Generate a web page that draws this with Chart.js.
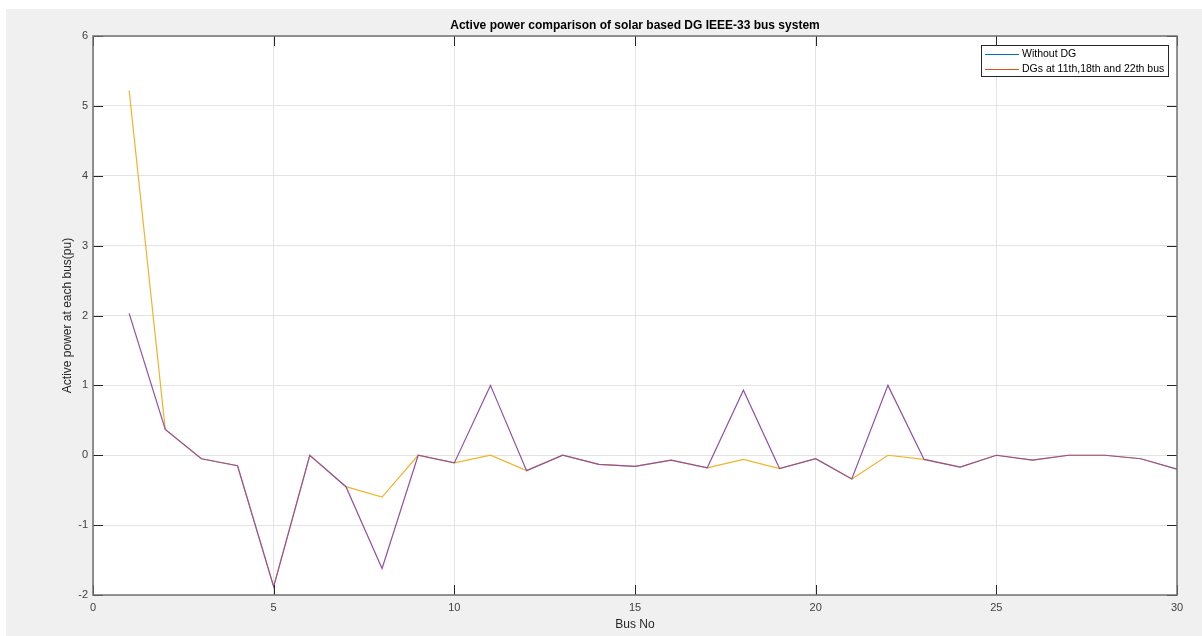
<!DOCTYPE html>
<html>
<head>
<meta charset="utf-8">
<title>Active power comparison</title>
<script src="https://cdn.jsdelivr.net/npm/chart.js@4.4.0/dist/chart.umd.min.js"></script>
<style>
    html, body { margin: 0; padding: 0; background: #fff; }
    #wrap { width: 1202px; height: 636px; }
</style>
</head>
<body>
<div id="wrap"><canvas id="powerChart" width="1202" height="636"></canvas></div>
<script>
// data
const busNo = [1, 2, 3, 4, 5, 6, 7, 8, 9, 10, 11, 12, 13, 14, 15, 16, 17, 18, 19, 20, 21, 22, 23, 24, 25, 26, 27, 28, 29, 30];
const withoutDG = [2.03, 0.37, -0.05, -0.15, -1.88, 0.00, -0.45, -1.62, 0.00, -0.11, 1.00, -0.22, 0.00, -0.13, -0.16, -0.07, -0.18, 0.93, -0.19, -0.05, -0.34, 1.00, -0.06, -0.17, 0.00, -0.07, 0.00, 0.00, -0.05, -0.20];
const withDG = [5.22, 0.37, -0.05, -0.15, -1.88, 0.00, -0.45, -0.60, 0.00, -0.11, 0.00, -0.22, 0.00, -0.13, -0.16, -0.07, -0.18, -0.06, -0.19, -0.05, -0.34, 0.00, -0.06, -0.17, 0.00, -0.07, 0.00, 0.00, -0.05, -0.20];
const seriesNames = ["Without DG", "DGs at 11th,18th and 22th bus"];
const lineColors = ["#9150a3", "#F0B32C"];
// the legend in the figure uses other colours than the lines
const legendColors = ["#0072BD", "#D95319"];

Chart.defaults.font.family = '"Liberation Sans", Arial, Helvetica, sans-serif';

function toPoints(values) {
    return busNo.map((b, i) => ({ x: b, y: values[i] }));
}

// grey figure with a white axes area
const figureBackground = {
    id: 'figureBackground',
    beforeDraw(chart) {
        const ctx = chart.ctx;
        const a = chart.chartArea;
        ctx.save();
        ctx.fillStyle = '#ffffff';
        ctx.fillRect(0, 0, chart.width, chart.height);
        ctx.fillStyle = '#f0f0f0';
        ctx.fillRect(6, 9, chart.width - 6, chart.height - 9);
        ctx.fillStyle = '#ffffff';
        ctx.fillRect(a.left, a.top, a.right - a.left, a.bottom - a.top);
        ctx.restore();
    }
};

// box round the axes, with the ticks pointing inwards on all four sides
const axesBox = {
    id: 'axesBox',
    afterDatasetsDraw(chart) {
        const ctx = chart.ctx;
        const a = chart.chartArea;
        const xs = chart.scales.x, ys = chart.scales.y;
        const len = 10;
        ctx.save();
        ctx.strokeStyle = '#262626';
        ctx.lineWidth = 1;
        ctx.beginPath();
        xs.ticks.forEach(t => {
            const px = Math.round(xs.getPixelForValue(t.value)) + 0.5;
            ctx.moveTo(px, a.bottom); ctx.lineTo(px, a.bottom - len);
            ctx.moveTo(px, a.top); ctx.lineTo(px, a.top + len);
        });
        ys.ticks.forEach(t => {
            const py = Math.round(ys.getPixelForValue(t.value)) + 0.5;
            ctx.moveTo(a.left, py); ctx.lineTo(a.left + len, py);
            ctx.moveTo(a.right, py); ctx.lineTo(a.right - len, py);
        });
        ctx.stroke();
        ctx.strokeStyle = '#707070';
        ctx.lineWidth = 1.5;
        ctx.strokeRect(a.left, a.top, a.right - a.left, a.bottom - a.top);
        ctx.restore();
    }
};

// legend box inside the axes, top right
const boxLegend = {
    id: 'boxLegend',
    afterDraw(chart) {
        const ctx = chart.ctx;
        const a = chart.chartArea;
        const w = 187, h = 31;
        const x0 = a.right - 9 - w, y0 = a.top + 9;
        ctx.save();
        ctx.fillStyle = '#ffffff';
        ctx.fillRect(x0, y0, w, h);
        ctx.strokeStyle = '#262626';
        ctx.lineWidth = 1;
        ctx.strokeRect(x0 + 0.5, y0 + 0.5, w, h);
        ctx.font = '10.5px "Liberation Sans", Arial, sans-serif';
        ctx.textBaseline = 'middle';
        chart.data.datasets.forEach((ds, i) => {
            const y = y0 + 9.5 + i * 15;
            ctx.strokeStyle = legendColors[i];
            ctx.lineWidth = 1;
            ctx.beginPath();
            ctx.moveTo(x0 + 4, y);
            ctx.lineTo(x0 + 38, y);
            ctx.stroke();
            ctx.fillStyle = '#000000';
            ctx.fillText(ds.label, x0 + 41, y);
        });
        ctx.restore();
    }
};

new Chart("powerChart", {
    type: "line",
    data: {
        datasets: [{
            label: seriesNames[0],
            data: toPoints(withoutDG),
            borderColor: lineColors[0],
            backgroundColor: lineColors[0],
            borderWidth: 1.2,
            pointRadius: 0,
            tension: 0,
            fill: false
        }, {
            label: seriesNames[1],
            data: toPoints(withDG),
            borderColor: lineColors[1],
            backgroundColor: lineColors[1],
            borderWidth: 1.2,
            pointRadius: 0,
            tension: 0,
            fill: false
        }]
    },
    options: {
        responsive: false,
        animation: false,
        events: [],
        layout: {
            padding: { left: 56, right: 25, top: 0, bottom: 0 }
        },
        scales: {
            x: {
                type: 'linear',
                min: 0,
                max: 30,
                ticks: { stepSize: 5, color: '#404040', font: { size: 11 }, padding: 6, maxRotation: 0 },
                grid: { color: '#e3e3e3', drawTicks: false },
                border: { display: false },
                title: { display: true, text: 'Bus No', color: '#262626', font: { size: 12 }, padding: { top: 0, bottom: 4 } },
                afterFit(scale) { scale.height = 41; }
            },
            y: {
                min: -2,
                max: 6,
                ticks: { stepSize: 1, color: '#404040', font: { size: 11 }, padding: 5 },
                grid: { color: '#e3e3e3', drawTicks: false },
                border: { display: false },
                title: { display: true, text: 'Active power at each bus(pu)', color: '#262626', font: { size: 12 }, padding: { top: 4, bottom: 0 } },
                afterFit(scale) { scale.width = 37; }
            }
        },
        plugins: {
            legend: { display: false },
            tooltip: { enabled: false },
            title: {
                display: true,
                text: 'Active power comparison of solar based DG IEEE-33 bus system',
                color: '#000000',
                font: { size: 12, weight: 'bold' },
                fullSize: false,
                padding: { top: 18, bottom: 3.6 }
            }
        }
    },
    plugins: [figureBackground, axesBox, boxLegend]
});
</script>
</body>
</html>
